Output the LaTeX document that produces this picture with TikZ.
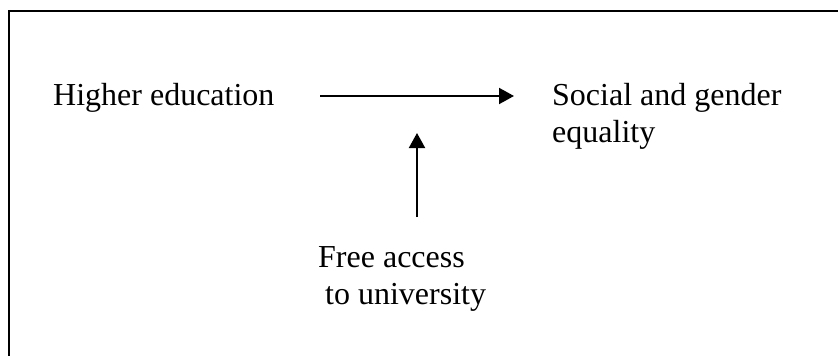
\documentclass[tikz,border=0pt]{standalone}
\usepackage{fontspec}
\setmainfont{Liberation Serif}
\usetikzlibrary{arrows.meta}
\begin{document}
\begin{tikzpicture}[x=1pt,y=-1pt,
  lbl/.style={anchor=base west,inner sep=0pt,font=\fontsize{32}{37}\selectfont},
  conn/.style={line width=2pt,-{Triangle[length=15pt,width=16pt]}},
  frameline/.style={line width=2.2pt}]
\useasboundingbox (0,0) rectangle (838,356);
\draw[frameline] (9,357) -- (9,11) -- (839,11);
\node[lbl] (he) at (53,105) {Higher education};
\node[lbl] (sg) at (552,105) {Social and gender};
\node[lbl] (eq) at (552,142) {equality};
\node[lbl] (fa) at (318,267) {Free access};
\node[lbl] (tu) at (325,304) {to university};
\coordinate (hstart) at (320,96);
\coordinate (hend) at (514,96);
\coordinate (vstart) at (417,217);
\coordinate (vend) at (417,133);
\draw[conn] (hstart) -- (hend);
\draw[conn] (vstart) -- (vend);
\end{tikzpicture}
\end{document}
